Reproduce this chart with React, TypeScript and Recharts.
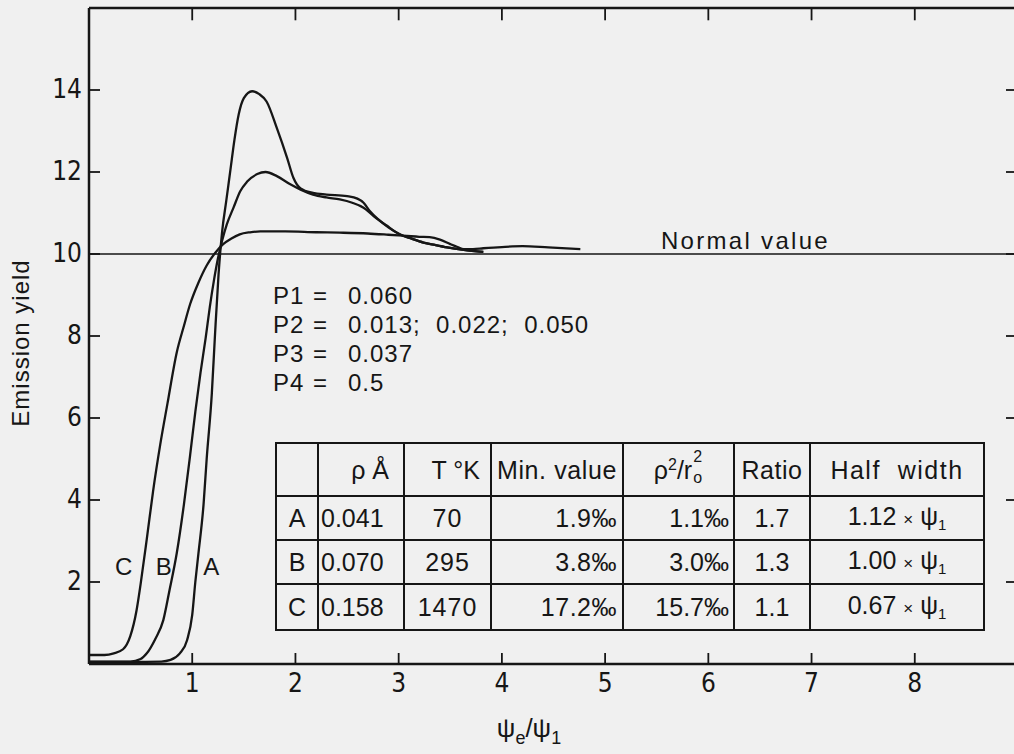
import React from 'react';
import { LineChart, Line, XAxis, YAxis, ReferenceLine, ReferenceDot } from 'recharts';

// ---------- data ----------
const xTicks = [1, 2, 3, 4, 5, 6, 7, 8];
const yTicks = [2, 4, 6, 8, 10, 12, 14];
const xDomain = [0, 9];
const yDomain = [0, 16];
const normalValue = 10;
const topTickLength = 0.3;

// Curve A (0.041 Å, 70 K)
const curveAx = [0, 0.4, 0.7, 0.79, 0.88, 0.95, 1.0, 1.03, 1.06, 1.11, 1.14, 1.19, 1.22, 1.255, 1.29, 1.33, 1.37, 1.41, 1.45, 1.5, 1.58, 1.65, 1.72, 1.82, 1.92, 1.98, 2.05, 2.17, 2.3, 2.5, 2.6, 2.66, 2.72, 2.8, 2.9, 3.01, 3.12, 3.24, 3.35, 3.47, 3.63, 3.82];
const curveAy = [0.05, 0.05, 0.06, 0.1, 0.26, 0.58, 1.2, 2.0, 2.69, 3.9, 5.0, 6.6, 8.0, 9.5, 10.55, 11.3, 12.05, 12.8, 13.4, 13.8, 13.97, 13.9, 13.72, 13.07, 12.34, 11.86, 11.6, 11.49, 11.45, 11.41, 11.35, 11.25, 11.05, 10.85, 10.65, 10.48, 10.38, 10.28, 10.22, 10.16, 10.1, 10.05];

// Curve B (0.070 Å, 295 K)
const curveBx = [0, 0.4, 0.5, 0.56, 0.64, 0.72, 0.78, 0.85, 0.92, 0.98, 1.03, 1.08, 1.13, 1.17, 1.21, 1.25, 1.29, 1.335, 1.4, 1.465, 1.53, 1.63, 1.71, 1.82, 1.95, 2.05, 2.17, 2.3, 2.43, 2.55, 2.66, 2.76, 2.88, 3.01, 3.12, 3.24, 3.35, 3.47, 3.63, 3.82];
const curveBy = [0.06, 0.06, 0.12, 0.26, 0.6, 1.07, 1.8, 2.7, 3.9, 5.1, 6.15, 7.1, 7.95, 8.7, 9.35, 9.9, 10.33, 10.72, 11.13, 11.53, 11.76, 11.95, 12.0, 11.9, 11.7, 11.57, 11.45, 11.38, 11.33, 11.25, 11.13, 10.92, 10.7, 10.48, 10.38, 10.28, 10.22, 10.16, 10.1, 10.05];

// Curve C (0.158 Å, 1470 K)
const curveCx = [0, 0.15, 0.24, 0.33, 0.4, 0.46, 0.5, 0.56, 0.62, 0.69, 0.76, 0.85, 0.92, 0.98, 1.06, 1.14, 1.22, 1.3, 1.38, 1.46, 1.56, 1.66, 1.9, 2.2, 2.43, 2.7, 2.9, 3.08, 3.2, 3.3, 3.4, 3.5, 3.57, 3.63, 3.72, 3.82, 4.0, 4.2, 4.45, 4.76];
const curveCy = [0.22, 0.22, 0.26, 0.36, 0.68, 1.3, 1.95, 3.05, 4.2, 5.35, 6.35, 7.6, 8.25, 8.78, 9.3, 9.72, 10.02, 10.24, 10.38, 10.48, 10.53, 10.55, 10.55, 10.53, 10.52, 10.5, 10.47, 10.44, 10.42, 10.41, 10.35, 10.24, 10.17, 10.12, 10.12, 10.14, 10.17, 10.19, 10.16, 10.12];

// curve labels (data coords)
const curveLabels = ['C', 'B', 'A'];
const curveLabelX = [0.337, 0.724, 1.184];
const curveLabelY = 2.38;
const normalLabelX = 6.36;

// parameter block
const paramNames = ['P1', 'P2', 'P3', 'P4'];
const paramValues = ['0.060', '0.013;  0.022;  0.050', '0.037', '0.5'];

// table
const rowLabels = ['A', 'B', 'C'];
const rhoValues = ['0.041', '0.070', '0.158'];
const tempValues = ['70', '295', '1470'];
const minValues = ['1.9‰', '3.8‰', '17.2‰'];
const rhoRatioValues = ['1.1‰', '3.0‰', '15.7‰'];
const ratioValues = ['1.7', '1.3', '1.1'];
const halfWidthValues = ['1.12', '1.00', '0.67'];

// ---------- styling ----------
const INK = '#161616';
const BG = '#f0f0f0';
const FONT = '"Liberation Sans", Arial, sans-serif';
const TICK_FONT = '"Liberation Sans Narrow", "DejaVu Sans Condensed", "Liberation Sans", sans-serif';

const toPoints = (xs: number[], ys: number[]) => xs.map((x, i) => ({ x, y: ys[i] }));
const dataA = toPoints(curveAx, curveAy);
const dataB = toPoints(curveBx, curveBy);
const dataC = toPoints(curveCx, curveCy);

const BottomTick = (props: any) => {
  const { x, y, payload } = props;
  return (
    <g>
      <line x1={x} x2={x} y1={y} y2={y - 11} stroke={INK} strokeWidth={1.8} />
      <text x={x} y={y + 28} textAnchor="middle" fontSize={26} fontFamily={TICK_FONT} fill={INK}>
        {payload.value}
      </text>
    </g>
  );
};

const LeftTick = (props: any) => {
  const { x, y, payload } = props;
  return (
    <g>
      <line x1={x} x2={x + 11} y1={y} y2={y} stroke={INK} strokeWidth={1.8} />
      <text x={x - 7} y={y + 8} textAnchor="end" fontSize={26} fontFamily={TICK_FONT} fill={INK}>
        {payload.value}
      </text>
    </g>
  );
};

const RightTick = (props: any) => {
  const { x, y } = props;
  return <line x1={x} x2={x - 12} y1={y} y2={y} stroke={INK} strokeWidth={1.8} />;
};

const YTitle = (p: any) => {
  const vb = p.viewBox || { x: 0, y: 8, width: 89, height: 656 };
  const cx = vb.x + 20;
  const cy = vb.y + vb.height / 2 + 7;
  return (
    <text x={cx} y={cy} transform={`rotate(-90 ${cx} ${cy})`} textAnchor="middle" dominantBaseline="central"
      fontSize={24} fontFamily={FONT} fill={INK} letterSpacing={1}>
      Emission yield
    </text>
  );
};

const XTitle = (p: any) => {
  const vb = p.viewBox || { x: 89, y: 664, width: 929, height: 90 };
  const cx = vb.x + 440;
  const cy = vb.y + 73;
  return (
    <text x={cx} y={cy} textAnchor="middle" fontSize={26} fontFamily={FONT} fill={INK}>
      ψ<tspan fontSize={18} dy={7}>e</tspan>
      <tspan fontSize={26} dy={-7}>/ψ</tspan>
      <tspan fontSize={18} dy={7}>1</tspan>
    </text>
  );
};

const dotLabel = (text: string, dy: number, spacing = 0) => (p: any) => {
  const vb = p.viewBox || { x: 0, y: 0 };
  return (
    <text x={vb.x} y={vb.y + dy} textAnchor="middle" fontSize={24} fontFamily={FONT} fill={INK}
      letterSpacing={spacing}>
      {text}
    </text>
  );
};

const cellBase: React.CSSProperties = {
  border: `2px solid ${INK}`,
  padding: '0 6px',
  verticalAlign: 'middle',
  whiteSpace: 'nowrap',
  overflow: 'visible',
  lineHeight: '28px',
};

const Psi1 = () => (
  <span>
    ψ<sub style={{ fontSize: 15, verticalAlign: -5, lineHeight: 0 }}>1</sub>
  </span>
);

const RhoRatioHeader = () => (
  <span style={{ whiteSpace: 'nowrap' }}>
    ρ<sup style={{ fontSize: 16, verticalAlign: 9, lineHeight: 0 }}>2</sup>/r
    <span style={{ position: 'relative', display: 'inline-block', width: 11, height: 20, verticalAlign: -2 }}>
      <span style={{ position: 'absolute', left: 1, top: -12, fontSize: 16, lineHeight: '16px' }}>2</span>
      <span style={{ position: 'absolute', left: 1, top: 9, fontSize: 16, lineHeight: '16px' }}>o</span>
    </span>
  </span>
);

export default function App() {
  const colW = [42, 86, 87, 132, 111, 76, 174];
  const rowH = [53, 44, 44, 46];
  return (
    <div style={{ position: 'fixed', left: 0, top: 0, width: 1014, height: 754, overflow: 'hidden', background: BG, fontFamily: FONT, color: INK }}>
      <LineChart width={1030} height={754} margin={{ top: 7, right: 0, bottom: 0, left: 0 }}>
        <XAxis xAxisId="b" type="number" dataKey="x" domain={xDomain} ticks={xTicks} interval={0}
          orientation="bottom" height={90} tickSize={0} tickMargin={0} tickLine={false}
          axisLine={{ stroke: INK, strokeWidth: 2.5 }} tick={<BottomTick />} allowDataOverflow
          label={{ content: XTitle }} />
        <XAxis xAxisId="t" type="number" dataKey="x" domain={xDomain} ticks={xTicks} interval={0}
          orientation="top" height={1} tickSize={0} tickMargin={0} tickLine={false}
          axisLine={{ stroke: INK, strokeWidth: 2.5 }} tick={false} allowDataOverflow />
        <YAxis yAxisId="l" type="number" domain={yDomain} ticks={yTicks} interval={0}
          orientation="left" width={89} tickSize={0} tickMargin={0} tickLine={false}
          axisLine={{ stroke: INK, strokeWidth: 2.5 }} tick={<LeftTick />} allowDataOverflow
          label={{ content: YTitle }} />
        <YAxis yAxisId="r" type="number" domain={yDomain} ticks={yTicks} interval={0}
          orientation="right" width={12} tickSize={0} tickMargin={0} tickLine={false}
          axisLine={{ stroke: INK, strokeWidth: 2.5 }} tick={<RightTick />} allowDataOverflow />

        {xTicks.map((t) => (
          <ReferenceLine key={`tt${t}`} xAxisId="b" yAxisId="l" stroke={INK} strokeWidth={1.8}
            segment={[{ x: t, y: yDomain[1] }, { x: t, y: yDomain[1] - topTickLength }]} />
        ))}

        <ReferenceLine xAxisId="b" yAxisId="l" y={normalValue} stroke={INK} strokeWidth={1.4} />

        <Line xAxisId="b" yAxisId="l" data={dataA} dataKey="y" type="monotone" stroke={INK} strokeWidth={2.3}
          dot={false} activeDot={false} isAnimationActive={false} />
        <Line xAxisId="b" yAxisId="l" data={dataB} dataKey="y" type="monotone" stroke={INK} strokeWidth={2.3}
          dot={false} activeDot={false} isAnimationActive={false} />
        <Line xAxisId="b" yAxisId="l" data={dataC} dataKey="y" type="monotone" stroke={INK} strokeWidth={2.3}
          dot={false} activeDot={false} isAnimationActive={false} />

        {curveLabels.map((t, i) => (
          <ReferenceDot key={t} xAxisId="b" yAxisId="l" x={curveLabelX[i]} y={curveLabelY} r={0}
            fill="none" stroke="none" label={{ content: dotLabel(t, 9) }} />
        ))}
        <ReferenceDot xAxisId="b" yAxisId="l" x={normalLabelX} y={normalValue} r={0} fill="none" stroke="none"
          label={{ content: dotLabel('Normal value', -5, 2.3) }} />
      </LineChart>

      {/* parameter block */}
      <div style={{ position: 'absolute', left: 273, top: 281, fontSize: 24, lineHeight: '29px' }}>
        {paramNames.map((n, i) => (
          <div key={n} style={{ position: 'relative', height: 29, whiteSpace: 'pre' }}>
            <span style={{ position: 'absolute', left: 0, letterSpacing: 1 }}>{n}</span>
            <span style={{ position: 'absolute', left: 40 }}>=</span>
            <span style={{ position: 'absolute', left: 75, letterSpacing: 1 }}>{paramValues[i]}</span>
          </div>
        ))}
      </div>

      {/* table */}
      <table style={{ position: 'absolute', left: 275, top: 442, borderCollapse: 'collapse', tableLayout: 'fixed',
        width: colW.reduce((a, b) => a + b, 0), fontSize: 25, fontFamily: FONT, color: INK }}>
        <colgroup>
          {colW.map((w, i) => <col key={i} style={{ width: w }} />)}
        </colgroup>
        <tbody>
          <tr style={{ height: rowH[0] }}>
            <td style={cellBase}></td>
            <td style={{ ...cellBase, textAlign: 'right', paddingRight: 14 }}>ρ Å</td>
            <td style={{ ...cellBase, textAlign: 'right', paddingRight: 10 }}>T °K</td>
            <td style={{ ...cellBase, textAlign: 'center', padding: 0, letterSpacing: 0.6 }}>Min. value</td>
            <td style={{ ...cellBase, textAlign: 'center', padding: 0 }}><RhoRatioHeader /></td>
            <td style={{ ...cellBase, textAlign: 'center', padding: 0, letterSpacing: 0.5 }}>Ratio</td>
            <td style={{ ...cellBase, textAlign: 'center', letterSpacing: 1.5 }}>Half&nbsp; width</td>
          </tr>
          {rowLabels.map((r, i) => (
            <tr key={r} style={{ height: rowH[i + 1] }}>
              <td style={{ ...cellBase, textAlign: 'center', padding: 0 }}>{r}</td>
              <td style={{ ...cellBase, textAlign: 'left', paddingLeft: 2 }}>{rhoValues[i]}</td>
              <td style={{ ...cellBase, textAlign: 'center', letterSpacing: 1 }}>{tempValues[i]}</td>
              <td style={{ ...cellBase, textAlign: 'right', paddingRight: 5, letterSpacing: 0.5 }}>{minValues[i]}</td>
              <td style={{ ...cellBase, textAlign: 'right', paddingRight: 4 }}>{rhoRatioValues[i]}</td>
              <td style={{ ...cellBase, textAlign: 'center' }}>{ratioValues[i]}</td>
              <td style={{ ...cellBase, textAlign: 'center' }}>
                {halfWidthValues[i]} <span style={{ fontSize: 17 }}>×</span> <Psi1 />
              </td>
            </tr>
          ))}
        </tbody>
      </table>
    </div>
  );
}
